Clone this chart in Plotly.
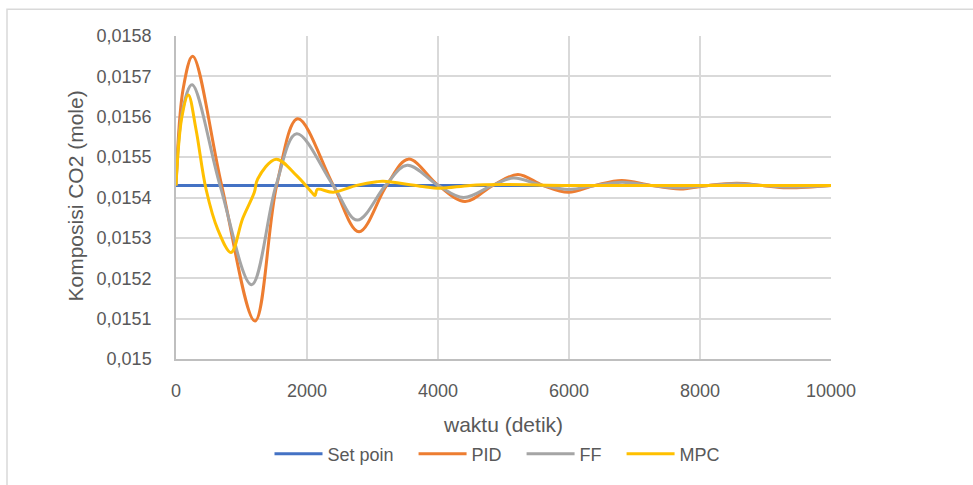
import plotly.graph_objects as go

# Time axis (detik) and CO2 composition (mole) for each controller
setpoint_t = [0, 10000]
setpoint_y = [0.01543, 0.01543]

pid_t = [0, 110, 255, 697, 1206, 1537, 1858, 2402, 2794, 3216, 3547, 4005, 4412, 4840, 5220, 5600, 5990, 6400, 6805, 7250, 7695, 8130, 8560, 8950, 9323, 10000]
pid_y = [0.01543, 0.01567, 0.01575, 0.01543, 0.015094, 0.01543, 0.015595, 0.01543, 0.015315, 0.01543, 0.015495, 0.01543, 0.015390, 0.01543, 0.015457, 0.01543, 0.015413, 0.01543, 0.015442, 0.01543, 0.015421, 0.01543, 0.015435, 0.01543, 0.015424, 0.01543]

ff_t = [0, 105, 245, 672, 1155, 1527, 1842, 2400, 2768, 3200, 3530, 4000, 4390, 4830, 5150, 5590, 6000, 6400, 6810, 7250, 7690, 8130, 8560, 8950, 9320, 10000]
ff_y = [0.01543, 0.01562, 0.015679, 0.01543, 0.015184, 0.01543, 0.015558, 0.01543, 0.015344, 0.01543, 0.015480, 0.01543, 0.015400, 0.01543, 0.015448, 0.01543, 0.015420, 0.01543, 0.015438, 0.01543, 0.015424, 0.01543, 0.015434, 0.01543, 0.015426, 0.01543]

mpc_t = [0, 90, 188, 305, 458, 640, 840, 1018, 1196, 1247, 1527, 1842, 2071, 2122, 2158, 2402, 2758, 3064, 3165, 3725, 4031, 4489, 5000, 6000, 8000, 10000]
mpc_y = [0.01543, 0.01560, 0.015654, 0.015569, 0.015421, 0.015320, 0.015264, 0.015348, 0.015413, 0.015446, 0.015495, 0.015454, 0.015413, 0.015405, 0.015420, 0.015413, 0.015430, 0.015439, 0.015440, 0.015428, 0.015423, 0.015430, 0.015432, 0.01543, 0.01543, 0.01543]

y_ticks = [0.015, 0.0151, 0.0152, 0.0153, 0.0154, 0.0155, 0.0156, 0.0157, 0.0158]
y_tick_text = ["0,015", "0,0151", "0,0152", "0,0153", "0,0154", "0,0155", "0,0156", "0,0157", "0,0158"]
x_ticks = [0, 2000, 4000, 6000, 8000, 10000]

FONT = "Liberation Sans"
TXT = "#595959"

fig = go.Figure()
series = [
    ("Set poin", setpoint_t, setpoint_y, "#4472C4", "linear"),
    ("PID", pid_t, pid_y, "#ED7D31", "spline"),
    ("FF", ff_t, ff_y, "#A5A5A5", "spline"),
    ("MPC", mpc_t, mpc_y, "#FFC000", "spline"),
]
for name, t, y, color, shape in series:
    fig.add_trace(go.Scatter(
        x=t, y=y, name=name + "   ", mode="lines",
        line=dict(color=color, width=3, shape=shape, smoothing=1.0),
    ))

fig.update_layout(
    width=973, height=485,
    margin=dict(l=176, r=142, t=36, b=123),
    paper_bgcolor="white", plot_bgcolor="white",
    font=dict(family=FONT, size=17, color=TXT),
    showlegend=True,
    legend=dict(orientation="h", x=(505 - 176) / 655, xanchor="center", y=-0.294, yanchor="middle",
                font=dict(family=FONT, size=18, color=TXT), itemwidth=48,
                tracegroupgap=0, bgcolor="rgba(0,0,0,0)"),
    xaxis=dict(range=[0, 10000], tickvals=x_ticks, ticktext=[str(v) for v in x_ticks],
               showgrid=True, gridcolor="#D9D9D9", gridwidth=1.5,
               showline=True, linecolor="#BFBFBF", linewidth=1.5,
               zeroline=False, ticks="", ticklabelstandoff=15,
               tickfont=dict(family=FONT, size=18, color=TXT)),
    yaxis=dict(range=[0.015, 0.0158], tickvals=y_ticks, ticktext=y_tick_text,
               showgrid=True, gridcolor="#D9D9D9", gridwidth=1.5,
               showline=True, linecolor="#BFBFBF", linewidth=1.5,
               zeroline=False, ticks="", ticklabelstandoff=19,
               tickfont=dict(family=FONT, size=18, color=TXT)),
    annotations=[
        dict(text="waktu (detik)", xref="paper", yref="paper",
             x=(503 - 176) / 655, y=(362 - 428) / 326, xanchor="center", yanchor="middle",
             showarrow=False, font=dict(family=FONT, size=21, color=TXT)),
        dict(text="Komposisi CO2 (mole)", xref="paper", yref="paper",
             x=(76 - 176) / 655, y=(362 - 198) / 326, xanchor="center", yanchor="middle",
             textangle=-90, showarrow=False, font=dict(family=FONT, size=21, color=TXT)),
    ],
    shapes=[
        dict(type="rect", xref="paper", yref="paper", layer="below",
             x0=(7 - 176) / 655, x1=(1000 - 176) / 655,
             y0=(362 - 520) / 326, y1=(362 - 9) / 326,
             line=dict(color="#D9D9D9", width=1.5), fillcolor="rgba(0,0,0,0)"),
    ],
)

fig.write_html("out.html")
